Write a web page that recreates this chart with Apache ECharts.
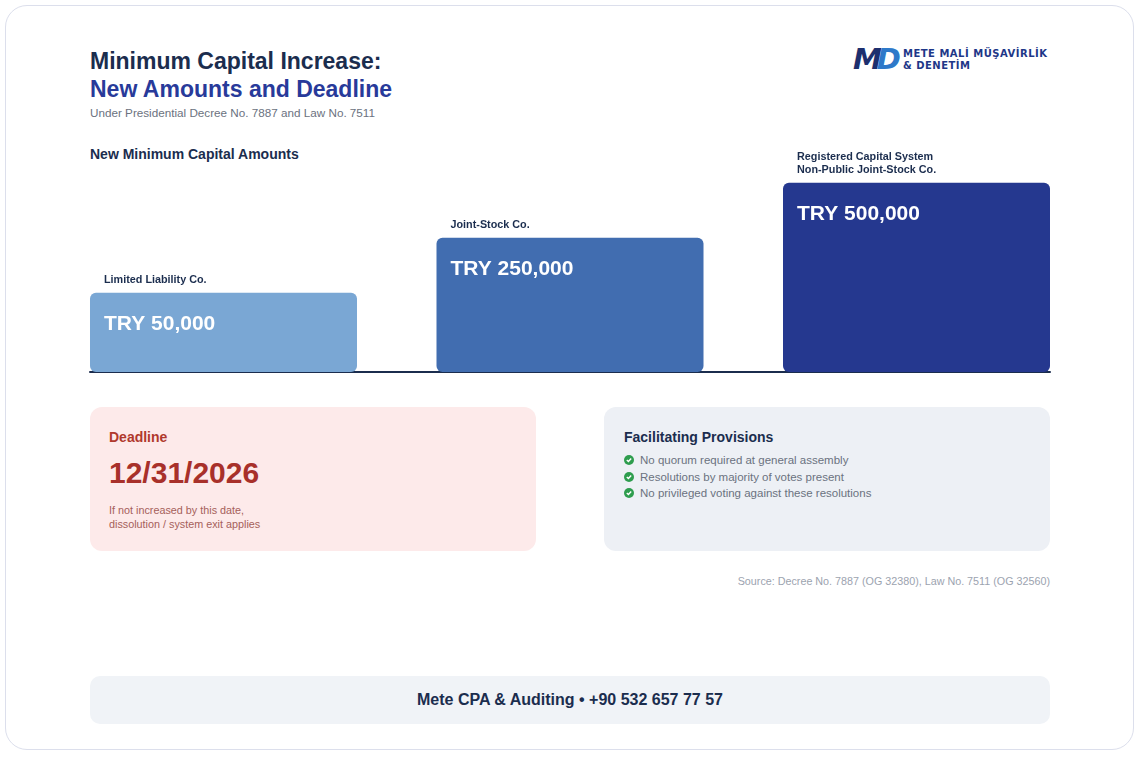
<!DOCTYPE html>
<html>
<head>
<meta charset="utf-8">
<script src="https://cdn.jsdelivr.net/npm/echarts@6/dist/echarts.min.js"></script>
<style>
  html, body { margin: 0; padding: 0; background: #ffffff; }
  body { width: 1140px; height: 757px; position: relative; overflow: hidden;
         font-family: "Liberation Sans", Arial, sans-serif; }
  .frame { position: absolute; left: 5px; top: 5px; width: 1127px; height: 743px;
           border: 1.5px solid #dcdfec; border-radius: 22px; }
  .abs { position: absolute; white-space: nowrap; }
  .t1 { left: 90px; top: 47px; font-size: 23px; font-weight: bold; color: #1b2d4e; line-height: 28px; }
  .t2 { left: 90px; top: 75px; font-size: 23px; font-weight: bold; color: #283a9a; line-height: 28px; }
  .sub { left: 90px; top: 106px; font-size: 11.7px; color: #6b7280; }
  .sec { left: 90px; top: 146px; font-size: 14px; font-weight: bold; color: #1b2d4e; }
  .card { position: absolute; top: 407px; width: 446px; height: 144px; border-radius: 12px; }
  .dead { left: 90px; background: #fdeaea; }
  .prov { left: 604px; background: #edf0f5; }
  .dl { left: 19px; top: 22px; font-size: 14px; font-weight: bold; color: #b0392d; }
  .date { left: 19px; top: 49px; font-size: 30px; font-weight: bold; color: #a8302a; }
  .note { left: 19px; top: 96px; font-size: 10.8px; line-height: 14px; color: #a5605a; white-space: normal; }
  .ph { left: 20px; top: 22px; font-size: 14px; font-weight: bold; color: #1b2d4e; }
  .list { left: 20px; top: 45px; font-size: 11.5px; color: #6b7280; }
  .list div { height: 16.5px; display: flex; align-items: center; }
  .list svg { margin-right: 6px; }
  .src { right: 90px; top: 575px; font-size: 10.75px; color: #9ca3af; }
  .foot { position: absolute; left: 90px; top: 676px; width: 960px; height: 48px; border-radius: 10px;
          background: #f0f3f7; text-align: center; line-height: 48px; font-size: 16px; font-weight: bold; color: #1b2d4e; }
  .logo { left: 853px; top: 44px; }
  .mark { position: absolute; left: 0; top: 0; font-size: 29px; font-weight: 900; font-style: italic;
          letter-spacing: -5px; line-height: 30px; font-family: "DejaVu Sans", sans-serif; }
  .mark .m { color: #1d2f6e; }
  .mark .d { color: #2e79c9; }
  .brand { position: absolute; left: 50px; top: 4px; font-family: "DejaVu Sans", sans-serif; font-weight: bold;
           font-size: 10px; letter-spacing: 0.5px; line-height: 12px; color: #1e3788; }
  #chart { position: absolute; left: 0; top: 140px; width: 1140px; height: 250px; }
</style>
</head>
<body>
<div class="frame"></div>

<div class="abs t1">Minimum Capital Increase:</div>
<div class="abs t2">New Amounts and Deadline</div>
<div class="abs sub">Under Presidential Decree No. 7887 and Law No. 7511</div>
<div class="abs sec">New Minimum Capital Amounts</div>

<div class="abs logo">
  <div class="mark"><span class="m">M</span><span class="d">D</span></div>
  <div class="brand">METE MALİ MÜŞAVİRLİK<br>&amp; DENETİM</div>
</div>

<div id="chart"></div>

<div class="card dead">
  <div class="abs dl">Deadline</div>
  <div class="abs date">12/31/2026</div>
  <div class="abs note">If not increased by this date,<br>dissolution / system exit applies</div>
</div>

<div class="card prov">
  <div class="abs ph">Facilitating Provisions</div>
  <div class="abs list" id="provList"></div>
</div>

<div class="abs src">Source: Decree No. 7887 (OG 32380), Law No. 7511 (OG 32560)</div>

<div class="foot">Mete CPA &amp; Auditing • +90 532 657 77 57</div>

<script>
// company types, amounts (TRY) and stepped display tiers
var companyTypes = ['Limited Liability Co.', 'Joint-Stock Co.', 'Registered Capital System\nNon-Public Joint-Stock Co.'];
var amounts = [50000, 250000, 500000];
var tiers = [1, 2, 3];
var barColors = ['#7aa7d4', '#416db0', '#25388f'];
var provisions = [
  'No quorum required at general assembly',
  'Resolutions by majority of votes present',
  'No privileged voting against these resolutions'
];

// provisions list
var check = '<svg width="10" height="10" viewBox="0 0 10 10"><circle cx="5" cy="5" r="5" fill="#2e9d4e"/>' +
            '<path d="M2.8 5.1 L4.4 6.6 L7.2 3.6" stroke="#fff" stroke-width="1.4" fill="none"/></svg>';
document.getElementById('provList').innerHTML = provisions.map(function (p) {
  return '<div>' + check + '<span>' + p + '</span></div>';
}).join('');

var chart = echarts.init(document.getElementById('chart'));

// bars sit on a stepped scale (each tier one step higher), base offset keeps the first one visible
var barData = tiers.map(function (t, i) {
  return { value: [i, t + 0.44], itemStyle: { color: barColors[i] } };
});

chart.setOption({
  animation: false,
  textStyle: { fontFamily: 'Liberation Sans, Arial, sans-serif' },
  grid: { left: 90, right: 90, top: 12, bottom: 18 },
  xAxis: {
    type: 'value', min: -0.38528, max: 2.38528,
    axisLine: { show: true, lineStyle: { color: '#1b2d4e', width: 2 } },
    axisTick: { show: false }, axisLabel: { show: false }, splitLine: { show: false }
  },
  yAxis: {
    type: 'value', min: 0, max: 4, show: false, splitLine: { show: false }
  },
  series: [
    {
      type: 'bar', barWidth: 267, barGap: '-100%', z: 1,
      data: barData,
      itemStyle: { borderRadius: 6 },
      label: {
        show: true, position: [14, 31], align: 'left', verticalAlign: 'middle',
        color: '#ffffff', fontSize: 21, fontWeight: 'bold',
        formatter: function (p) { return 'TRY ' + amounts[p.dataIndex].toLocaleString('en-US'); }
      }
    },
    {
      type: 'bar', barWidth: 267, barGap: '-100%', z: 2, silent: true,
      data: barData.map(function (d) { return { value: d.value }; }),
      itemStyle: { color: 'rgba(0,0,0,0)' },
      label: {
        show: true, position: [14, -6], align: 'left', verticalAlign: 'bottom',
        color: '#1b2d4e', fontSize: 10.8, fontWeight: 'bold', lineHeight: 13,
        formatter: function (p) { return companyTypes[p.dataIndex]; }
      }
    }
  ]
});
</script>
</body>
</html>
